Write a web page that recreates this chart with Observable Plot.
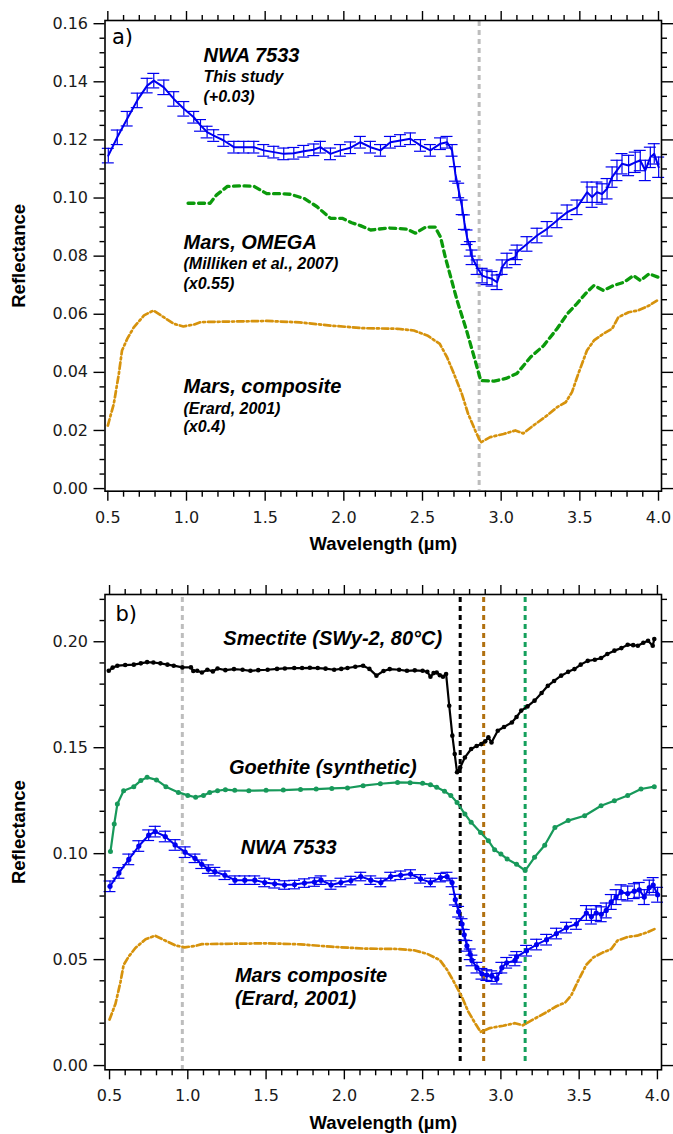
<!DOCTYPE html>
<html><head><meta charset="utf-8">
<script src="https://cdn.jsdelivr.net/npm/d3@7"></script>
<script src="https://cdn.jsdelivr.net/npm/@observablehq/plot@0.6"></script>
<style>
body{margin:0;background:#fff;}
#a,#b{width:673px;}
svg{display:block;}
</style></head><body><div id="a"></div><div id="b"></div>
<script>
// ---------- data ----------
const xMajorTicks = [0.5, 1.0, 1.5, 2.0, 2.5, 3.0, 3.5, 4.0];
const yMajorTicksA = [0.00, 0.02, 0.04, 0.06, 0.08, 0.10, 0.12, 0.14, 0.16];
const yMajorTicksB = [0.00, 0.05, 0.10, 0.15, 0.20];

// NWA 7533 (raw reflectance; shown +0.03 in panel a)
const nwaWl = [0.503,0.560,0.623,0.687,0.750,0.792,0.856,0.919,0.983,
  1.046,1.089,1.131,1.173,1.237,1.301,1.364,1.428,1.491,1.555,1.618,1.682,1.745,1.809,1.851,1.915,1.978,2.042,2.105,2.169,2.233,2.296,2.360,2.423,2.487,2.550,2.614,2.656,2.688,
  2.709,2.730,2.752,2.766,2.783,2.804,2.815,2.847,2.879,2.910,2.942,2.974,3.006,3.037,3.090,3.101,3.164,3.228,3.292,3.355,3.419,3.482,
  3.546,3.578,3.609,3.641,3.673,3.705,3.736,3.768,3.810,3.852,3.884,3.916,3.948,3.973,4.001];
const nwaRefl = [0.0846,0.0909,0.0973,0.1036,0.1087,0.1104,0.1081,0.1041,0.1007,
  0.0978,0.0950,0.0927,0.0915,0.0898,0.0875,0.0875,0.0875,0.0864,0.0858,0.0852,0.0854,0.0861,0.0866,0.0875,0.0852,0.0864,0.0873,0.0892,0.0875,0.0864,0.0892,0.0898,0.0904,0.0881,0.0864,0.0887,0.0892,0.0864,
  0.0783,0.0726,0.0668,0.0617,0.0565,0.0525,0.0496,0.0462,0.0433,0.0427,0.0422,0.0410,0.0462,0.0485,0.0496,0.0513,0.0542,0.0571,0.0594,0.0623,0.0651,0.0668,
  0.0720,0.0703,0.0720,0.0714,0.0732,0.0772,0.0795,0.0818,0.0812,0.0823,0.0829,0.0795,0.0840,0.0852,0.0806];
const nwaErr = [0.0025,0.0025,0.0025,0.0025,0.0025,0.0025,0.0025,0.0025,0.0025,
  0.002,0.002,0.002,0.002,0.002,0.002,0.002,0.002,0.002,0.002,0.002,0.002,0.002,0.002,0.002,0.002,0.002,0.002,0.002,0.002,0.002,0.002,0.002,0.002,0.002,0.002,0.002,0.002,0.002,
  0.0025,0.0025,0.0025,0.0025,0.0025,0.0025,0.0025,0.0025,0.0025,0.0025,0.0025,0.0025,0.0025,0.0025,0.0025,0.0025,0.0025,0.0025,0.0025,0.0025,0.0025,0.0025,
  0.0035,0.0035,0.0035,0.0035,0.0035,0.0035,0.0035,0.0035,0.0035,0.0035,0.0035,0.0035,0.0035,0.0035,0.0035];
const nwaOffset = 0.03;

// Mars OMEGA (Milliken et al., 2007), as plotted (x0.55)
const omegaWl = [1.01,1.08,1.15,1.19,1.26,1.35,1.43,1.51,1.60,1.66,1.75,1.83,1.915,1.99,2.05,2.105,2.17,2.285,2.40,2.455,2.52,2.58,2.615,2.645,2.72,2.78,2.835,2.87,2.955,3.03,3.10,3.186,3.27,3.355,3.42,3.48,3.545,3.59,3.65,3.715,3.78,3.84,3.885,3.94,4.0];
const omegaRefl = [0.0982,0.0982,0.0982,0.1010,0.1040,0.1042,0.1040,0.1015,0.1015,0.1013,0.0998,0.0970,0.0930,0.0930,0.0915,0.0905,0.0890,0.0897,0.0893,0.0879,0.0900,0.0900,0.0865,0.0796,0.0647,0.0544,0.0440,0.0372,0.0370,0.0379,0.0396,0.0452,0.0492,0.0550,0.0601,0.0636,0.0676,0.0699,0.0682,0.0699,0.0710,0.0733,0.0716,0.0739,0.0727];

// Mars composite (Erard, 2001), as plotted (x0.4)
const compWl = [0.50,0.538,0.57,0.59,0.623,0.665,0.73,0.79,0.855,0.92,0.98,1.05,1.09,1.30,1.51,1.72,1.915,2.125,2.34,2.445,2.53,2.61,2.656,2.70,2.75,2.79,2.835,2.87,2.93,3.015,3.09,3.14,3.205,3.29,3.355,3.41,3.45,3.49,3.545,3.59,3.65,3.705,3.745,3.81,3.87,3.94,3.99];
const compRefl = [0.0217,0.0292,0.0395,0.0475,0.0515,0.0555,0.0596,0.0613,0.0590,0.0567,0.0558,0.0565,0.0573,0.0575,0.0577,0.0572,0.0561,0.0552,0.0550,0.0544,0.0527,0.0498,0.0452,0.0395,0.0326,0.0257,0.0200,0.0159,0.0177,0.0188,0.0200,0.0190,0.0217,0.0251,0.0280,0.0297,0.0332,0.0395,0.0475,0.0510,0.0533,0.0550,0.0590,0.0607,0.0613,0.0630,0.0647];

// Smectite (SWy-2, 80°C)
const smecWl = [0.495,0.52,0.55,0.60,0.655,0.70,0.74,0.78,0.825,0.87,0.91,0.965,1.02,1.035,1.06,1.09,1.125,1.16,1.19,1.24,1.295,1.35,1.40,1.45,1.51,1.57,1.62,1.68,1.73,1.78,1.83,1.88,1.935,1.98,2.02,2.07,2.12,2.16,2.205,2.25,2.29,2.35,2.40,2.45,2.50,2.53,2.55,2.57,2.59,2.61,2.63,2.65,2.67,2.69,2.705,2.72,2.74,2.77,2.81,2.845,2.875,2.90,2.92,2.94,2.98,3.02,3.07,3.10,3.13,3.17,3.215,3.26,3.30,3.34,3.385,3.43,3.47,3.51,3.555,3.60,3.64,3.68,3.725,3.77,3.81,3.845,3.875,3.91,3.94,3.97,3.98];
const smecRefl = [0.1863,0.1878,0.1887,0.1890,0.1892,0.1898,0.1904,0.1902,0.1898,0.1892,0.1887,0.1879,0.1879,0.1862,0.1863,0.1855,0.1868,0.1860,0.1874,0.1866,0.1871,0.1868,0.1863,0.1866,0.1868,0.1872,0.1874,0.1876,0.1876,0.1877,0.1876,0.1873,0.1868,0.1872,0.1876,0.1882,0.1887,0.1872,0.1840,0.1862,0.1871,0.1868,0.1863,0.1865,0.1863,0.1858,0.1835,0.1852,0.1855,0.1842,0.1835,0.1848,0.1698,0.1557,0.1470,0.1384,0.1407,0.1454,0.1494,0.1508,0.1517,0.1530,0.1549,0.1525,0.1580,0.1598,0.1619,0.1645,0.1675,0.1695,0.1722,0.1758,0.1792,0.1815,0.1840,0.1858,0.1871,0.1892,0.1910,0.1915,0.1923,0.1942,0.1958,0.1970,0.1986,0.1984,0.1981,0.1995,0.2005,0.1981,0.2013];

// Goethite (synthetic)
const goetWl = [0.506,0.53,0.55,0.59,0.655,0.70,0.74,0.80,0.86,0.94,1.00,1.05,1.10,1.14,1.19,1.24,1.30,1.39,1.50,1.61,1.72,1.82,1.92,2.02,2.12,2.23,2.34,2.42,2.50,2.55,2.59,2.64,2.68,2.72,2.77,2.81,2.87,2.92,2.96,3.00,3.04,3.10,3.155,3.215,3.28,3.345,3.43,3.535,3.64,3.725,3.81,3.895,3.98];
const goetRefl = [0.1010,0.1140,0.1234,0.1297,0.1316,0.1345,0.1360,0.1348,0.1316,0.1289,0.1275,0.1266,0.1275,0.1289,0.1297,0.1302,0.1299,0.1297,0.1299,0.1300,0.1303,0.1305,0.1308,0.1310,0.1321,0.1330,0.1336,0.1335,0.1332,0.1325,0.1313,0.1295,0.1274,0.1242,0.1187,0.1148,0.1100,0.1061,0.1018,0.0998,0.0975,0.0950,0.0920,0.0983,0.1040,0.1124,0.1156,0.1179,0.1226,0.1250,0.1274,0.1305,0.1316];

// reference lines
const refLinesA = [{wl: 2.86, color: "#bdbdbd"}];
const refLinesB = [
  {wl: 0.965, color: "#bdbdbd", full: true},
  {wl: 2.74, color: "#000000", full: false},
  {wl: 2.89, color: "#b0700f", full: false},
  {wl: 3.155, color: "#14a05c", full: false}
];

// annotations
const labelsA = [
  {t: "NWA 7533", wl: 1.108, r: 0.1489, big: true},
  {t: "This study", wl: 1.108, r: 0.1416, big: false},
  {t: "(+0.03)", wl: 1.108, r: 0.1347, big: false},
  {t: "Mars, OMEGA", wl: 0.981, r: 0.0848, big: true},
  {t: "(Milliken et al., 2007)", wl: 0.981, r: 0.0773, big: false},
  {t: "(x0.55)", wl: 0.981, r: 0.0705, big: false},
  {t: "Mars, composite", wl: 0.981, r: 0.0351, big: true},
  {t: "(Erard, 2001)", wl: 0.981, r: 0.0274, big: false},
  {t: "(x0.4)", wl: 0.981, r: 0.0214, big: false}
];
const labelsB = [
  {t: "Smectite (SWy-2, 80°C)", wl: 1.227, r: 0.2016},
  {t: "Goethite (synthetic)", wl: 1.263, r: 0.1407},
  {t: "NWA 7533", wl: 1.338, r: 0.1028},
  {t: "Mars composite", wl: 1.301, r: 0.0425},
  {t: "(Erard, 2001)", wl: 1.301, r: 0.0315}
];

// ---------- build tables ----------
const nwa = nwaWl.map((w, i) => ({wl: w, r: nwaRefl[i], e: nwaErr[i]}));
const omega = omegaWl.map((w, i) => ({wl: w, r: omegaRefl[i]}));
const comp = compWl.map((w, i) => ({wl: w, r: compRefl[i]}));
const smec = smecWl.map((w, i) => ({wl: w, r: smecRefl[i]}));
const goet = goetWl.map((w, i) => ({wl: w, r: goetRefl[i]}));

const xMinor = d3.range(5, 41).filter(i => i % 5 !== 0).map(i => i / 10);
const yMinorA = d3.range(0, 33).filter(i => i % 4 !== 0).map(i => i * 0.005);
const yMinorB = d3.range(0, 23).filter(i => i % 5 !== 0).map(i => i * 0.01);

const BLUE = "#0000f0";
const CAP = 0.038;
const ORANGE = "#d6920c";
const COMP_DASH = "6.5,3,2,3";
const ITAL = {fontFamily: "Liberation Sans", fontWeight: "bold", fontStyle: "italic", textAnchor: "start", fill: "#000"};

function axes(yMajor, yMinor) {
  const ax = {label: null, stroke: "#000", strokeWidth: 1.4};
  return [
    Plot.frame({stroke: "#000", strokeWidth: 1.6}),
    Plot.axisX(xMajorTicks, {...ax, anchor: "bottom", tickSize: 10, tickPadding: 10, tickFormat: d3.format(".1f"), fontSize: 16}),
    Plot.axisX(xMinor, {...ax, anchor: "bottom", tickSize: 6, tickFormat: () => ""}),
    Plot.axisX(xMajorTicks, {...ax, anchor: "top", tickSize: 10, tickFormat: () => ""}),
    Plot.axisX(xMinor, {...ax, anchor: "top", tickSize: 6, tickFormat: () => ""}),
    Plot.axisY(yMajor, {...ax, anchor: "left", tickSize: 11, tickPadding: 6, tickFormat: d3.format(".2f"), fontSize: 16}),
    Plot.axisY(yMinor, {...ax, anchor: "left", tickSize: 5, tickFormat: () => ""}),
    Plot.axisY(yMajor, {...ax, anchor: "right", tickSize: 11, tickFormat: () => ""}),
    Plot.axisY(yMinor, {...ax, anchor: "right", tickSize: 5, tickFormat: () => ""}),
    Plot.text(["Reflectance"], {frameAnchor: "left", rotate: -90, dx: -85.5, textAnchor: "middle", lineAnchor: "middle", fontFamily: "Liberation Sans", fontWeight: "bold", fontSize: 18.5, fill: "#000"}),
    Plot.text(["Wavelength (µm)"], {frameAnchor: "bottom", dy: 53, textAnchor: "middle", lineAnchor: "middle", fontFamily: "Liberation Sans", fontWeight: "bold", fontSize: 18.5, fill: "#000"})
  ];
}

function errorBars(off, dots) {
  const ys = d => d.r + off;
  return [
    Plot.ruleX(nwa, {x: "wl", y1: d => ys(d) - d.e, y2: d => ys(d) + d.e, stroke: BLUE, strokeWidth: 1.2}),
    Plot.ruleY(nwa, {y: d => ys(d) - d.e, x1: d => d.wl - CAP, x2: d => d.wl + CAP, stroke: BLUE, strokeWidth: 1.2}),
    Plot.ruleY(nwa, {y: d => ys(d) + d.e, x1: d => d.wl - CAP, x2: d => d.wl + CAP, stroke: BLUE, strokeWidth: 1.2}),
    Plot.line(nwa, {x: "wl", y: ys, stroke: BLUE, strokeWidth: 2}),
    ...(dots ? [Plot.dot(nwa, {x: "wl", y: ys, r: 2.6, fill: BLUE, stroke: null})] : [])
  ];
}

const common = {width: 673, marginLeft: 104.5, marginRight: 12,
  color: {type: "identity"},
  style: {fontFamily: "DejaVu Sans", fontSize: "16px", color: "#1a1a1a", background: "#fff", overflow: "visible"}};

// ---------- panel a ----------
const plotA = Plot.plot({
  ...common,
  height: 565, marginTop: 20, marginBottom: 74.3,
  x: {domain: [0.482, 4.019]},
  y: {domain: [-0.0009, 0.1611]},
  marks: [
    Plot.ruleX(refLinesA, {x: "wl", stroke: "color", strokeWidth: 3, strokeDasharray: "5,4", insetTop: 1, insetBottom: 1}),
    Plot.line(comp, {x: "wl", y: "r", stroke: ORANGE, strokeWidth: 2.7, strokeDasharray: COMP_DASH}),
    Plot.line(omega, {x: "wl", y: "r", stroke: "#0b9a0b", strokeWidth: 3.3, strokeDasharray: "6,4.5"}),
    ...errorBars(nwaOffset, false),
    Plot.text(labelsA.filter(d => d.big), {x: "wl", y: "r", text: "t", fontSize: 20, ...ITAL}),
    Plot.text(labelsA.filter(d => !d.big), {x: "wl", y: "r", text: "t", fontSize: 16, ...ITAL}),
    Plot.text(["a)"], {frameAnchor: "top-left", dx: 7, dy: 17, textAnchor: "start", lineAnchor: "middle", fontSize: 21, fill: "#000"}),
    ...axes(yMajorTicksA, yMinorA)
  ]
});
document.getElementById("a").append(plotA);

// ---------- panel b ----------
const plotB = Plot.plot({
  ...common,
  height: 569, marginTop: 29, marginBottom: 64.7,
  x: {domain: [0.471, 4.026]},
  y: {domain: [-0.002, 0.2223]},
  marks: [
    Plot.ruleX(refLinesB.filter(d => d.full), {x: "wl", stroke: "color", strokeWidth: 3, strokeDasharray: "5,4", insetTop: 3, insetBottom: 0}),
    Plot.ruleX(refLinesB.filter(d => !d.full), {x: "wl", stroke: "color", strokeWidth: 3, strokeDasharray: "5,4", insetTop: 3, insetBottom: 8}),
    Plot.line(comp, {x: "wl", y: "r", stroke: ORANGE, strokeWidth: 2.7, strokeDasharray: COMP_DASH}),
    ...errorBars(0, true),
    Plot.line(goet, {x: "wl", y: "r", stroke: "#17995a", strokeWidth: 2.2}),
    Plot.dot(goet, {x: "wl", y: "r", r: 2.5, fill: "#17995a", stroke: null}),
    Plot.line(smec, {x: "wl", y: "r", stroke: "#000", strokeWidth: 2.2}),
    Plot.dot(smec, {x: "wl", y: "r", r: 2.3, fill: "#000", stroke: null}),
    Plot.text(labelsB, {x: "wl", y: "r", text: "t", fontSize: 20, ...ITAL}),
    Plot.text(["b)"], {frameAnchor: "top-left", dx: 10.5, dy: 19.3, textAnchor: "start", lineAnchor: "middle", fontSize: 21, fill: "#000"}),
    ...axes(yMajorTicksB, yMinorB)
  ]
});
document.getElementById("b").append(plotB);
</script></body></html>
